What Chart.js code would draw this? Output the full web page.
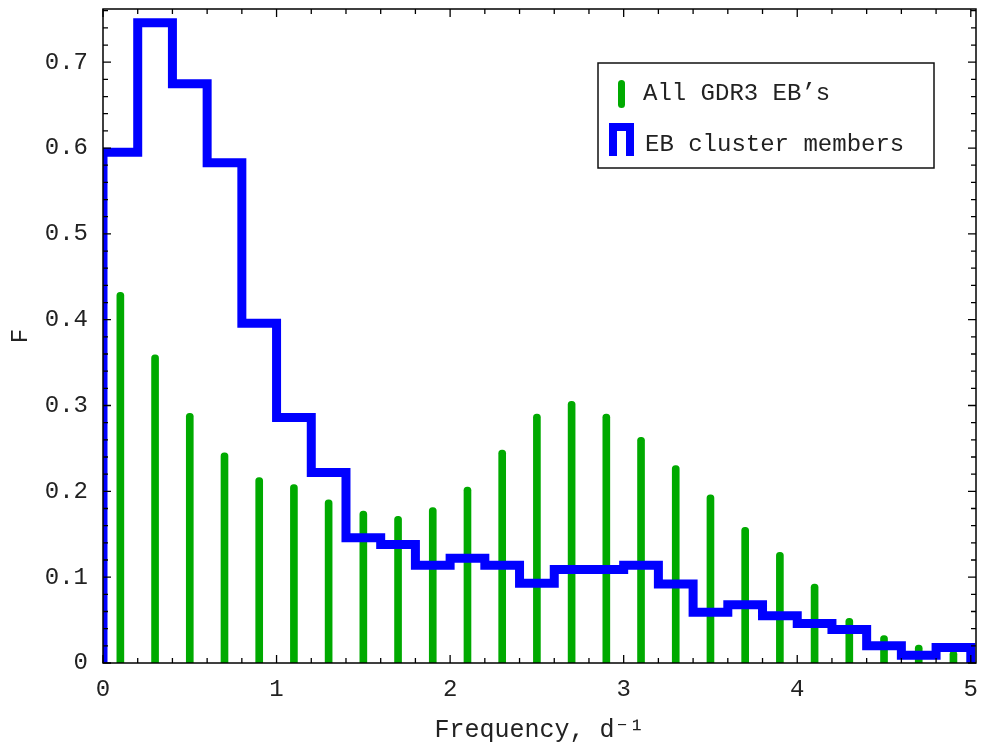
<!DOCTYPE html>
<html>
<head>
<meta charset="utf-8">
<script src="https://cdn.jsdelivr.net/npm/chart.js@4"></script>
<style>
  html, body { margin: 0; padding: 0; background: #fff; }
  #wrap { width: 982px; height: 744px; }
</style>
</head>
<body>
<div id="wrap"><canvas id="freqChart"></canvas></div>
<script>
// bin centres of the all-EB histogram (0.2 d^-1 bins)
const binCenters = [0.1, 0.3, 0.5, 0.7, 0.9, 1.1, 1.3, 1.5, 1.7, 1.9, 2.1, 2.3, 2.5,
                    2.7, 2.9, 3.1, 3.3, 3.5, 3.7, 3.9, 4.1, 4.3, 4.5, 4.7, 4.9];
const allGdr3 = [0.432, 0.359, 0.291, 0.245, 0.216, 0.208, 0.190, 0.177, 0.171, 0.181,
                 0.205, 0.248, 0.290, 0.305, 0.290, 0.263, 0.230, 0.196, 0.158, 0.129,
                 0.092, 0.052, 0.032, 0.021, 0.014];
// left edges of the cluster-member bins
const binEdges = [0.0, 0.2, 0.4, 0.6, 0.8, 1.0, 1.2, 1.4, 1.6, 1.8, 2.0, 2.2, 2.4,
                  2.6, 2.8, 3.0, 3.2, 3.4, 3.6, 3.8, 4.0, 4.2, 4.4, 4.6, 4.8, 5.0];
const clusterMembers = [0.595, 0.746, 0.675, 0.583, 0.396, 0.286, 0.222, 0.146, 0.138, 0.114,
                        0.122, 0.114, 0.093, 0.109, 0.109, 0.114, 0.092, 0.059, 0.068, 0.055,
                        0.046, 0.039, 0.020, 0.009, 0.018];
const xTickLabels = [0, 1, 2, 3, 4, 5];
const yTickLabels = [0, 0.1, 0.2, 0.3, 0.4, 0.5, 0.6, 0.7];

const FONT = "'Liberation Mono', 'DejaVu Sans Mono', monospace";
const GREEN = '#00aa00';
const BLUE = '#0000ff';

const barData = binCenters.map((c, i) => ({ x: c, y: allGdr3[i] }));

// step outline: up from zero at the first edge, across each bin, down at the last edge
const stepData = [{ x: binEdges[0], y: 0 }];
clusterMembers.forEach((v, i) => stepData.push({ x: binEdges[i], y: v }));
stepData.push({ x: binEdges[binEdges.length - 1], y: clusterMembers[clusterMembers.length - 1] });
stepData.push({ x: binEdges[binEdges.length - 1], y: 0 });

// frame with inward ticks on all four sides
const framePlugin = {
  id: 'frame',
  afterDatasetsDraw(chart) {
    const { ctx, chartArea: a, scales } = chart;
    const xs = scales.x, ys = scales.y;
    ctx.save();
    ctx.strokeStyle = '#000';
    ctx.lineWidth = 1.3;
    ctx.beginPath();
    for (let i = 0; i <= 25; i++) {
      const px = xs.getPixelForValue(i * 0.2);
      const len = i % 5 === 0 ? 8 : 5;
      ctx.moveTo(px, a.bottom); ctx.lineTo(px, a.bottom - len);
      ctx.moveTo(px, a.top); ctx.lineTo(px, a.top + len);
    }
    for (let i = 0; i <= 38; i++) {
      const py = ys.getPixelForValue(i * 0.02);
      const len = i % 5 === 0 ? 8 : 5;
      ctx.moveTo(a.left, py); ctx.lineTo(a.left + len, py);
      ctx.moveTo(a.right, py); ctx.lineTo(a.right - len, py);
    }
    ctx.stroke();
    ctx.lineWidth = 1.5;
    ctx.strokeRect(a.left, a.top, a.right - a.left, a.bottom - a.top);
    ctx.restore();
  }
};

// boxed legend in the upper right
const legendPlugin = {
  id: 'boxLegend',
  afterDraw(chart) {
    const ctx = chart.ctx;
    ctx.save();
    ctx.fillStyle = '#fff';
    ctx.fillRect(598, 63, 336, 105);
    ctx.strokeStyle = '#111';
    ctx.lineWidth = 1.5;
    ctx.strokeRect(598, 63, 336, 105);

    // green stick
    ctx.fillStyle = GREEN;
    ctx.beginPath();
    ctx.roundRect(618, 80, 7, 28, 3.5);
    ctx.fill();

    // blue step symbol
    ctx.strokeStyle = BLUE;
    ctx.lineWidth = 8;
    ctx.lineJoin = 'miter';
    ctx.beginPath();
    ctx.moveTo(613, 156);
    ctx.lineTo(613, 127);
    ctx.lineTo(630, 127);
    ctx.lineTo(630, 156);
    ctx.stroke();

    ctx.fillStyle = '#222';
    ctx.font = '24px ' + FONT;
    ctx.textBaseline = 'middle';
    ctx.fillText('All GDR3 EB’s', 643, 94);
    ctx.fillText('EB cluster members', 645, 145);
    ctx.restore();
  }
};

new Chart(document.getElementById('freqChart'), {
  type: 'bar',
  data: {
    datasets: [
      {
        type: 'line',
        label: 'EB cluster members',
        data: stepData,
        stepped: 'before',
        borderColor: BLUE,
        borderWidth: 9,
        borderJoinStyle: 'miter',
        borderCapStyle: 'butt',
        pointRadius: 0,
        fill: false,
        clip: 0,
        order: 0
      },
      {
        type: 'bar',
        label: 'All GDR3 EB’s',
        data: barData,
        backgroundColor: GREEN,
        barThickness: 7,
        borderRadius: 3.5,
        borderSkipped: 'start',
        order: 1
      }
    ]
  },
  options: {
    responsive: true,
    maintainAspectRatio: false,
    animation: false,
    layout: { padding: { top: 9, right: 6, left: 0, bottom: 0 } },
    plugins: {
      legend: { display: false },
      tooltip: { enabled: false }
    },
    scales: {
      x: {
        type: 'linear',
        min: 0,
        max: 5.03,
        offset: false,
        afterFit(scale) {
          scale.height = 81;
          scale.paddingLeft = 0;
          scale.paddingRight = 0;
        },
        afterBuildTicks(scale) { scale.ticks = xTickLabels.map(v => ({ value: v })); },
        grid: { display: false, drawTicks: false },
        border: { display: false },
        ticks: {
          color: '#222',
          font: { family: FONT, size: 24 },
          padding: 12,
          maxRotation: 0
        },
        title: {
          display: true,
          text: 'Frequency, d⁻¹',
          color: '#222',
          font: { family: FONT, size: 25, lineHeight: 1 },
          padding: { top: 0, bottom: 1 }
        }
      },
      y: {
        type: 'linear',
        min: 0,
        max: 0.762,
        afterFit(scale) {
          scale.width = 103;
          scale.paddingTop = 0;
          scale.paddingBottom = 0;
        },
        afterBuildTicks(scale) { scale.ticks = yTickLabels.map(v => ({ value: v })); },
        grid: { display: false, drawTicks: false },
        border: { display: false },
        ticks: {
          color: '#222',
          font: { family: FONT, size: 24 },
          padding: 15
        },
        title: {
          display: true,
          text: 'F',
          color: '#222',
          font: { family: FONT, size: 24 },
          padding: { top: 6, bottom: 0 }
        }
      }
    }
  },
  plugins: [framePlugin, legendPlugin]
});
</script>
</body>
</html>
